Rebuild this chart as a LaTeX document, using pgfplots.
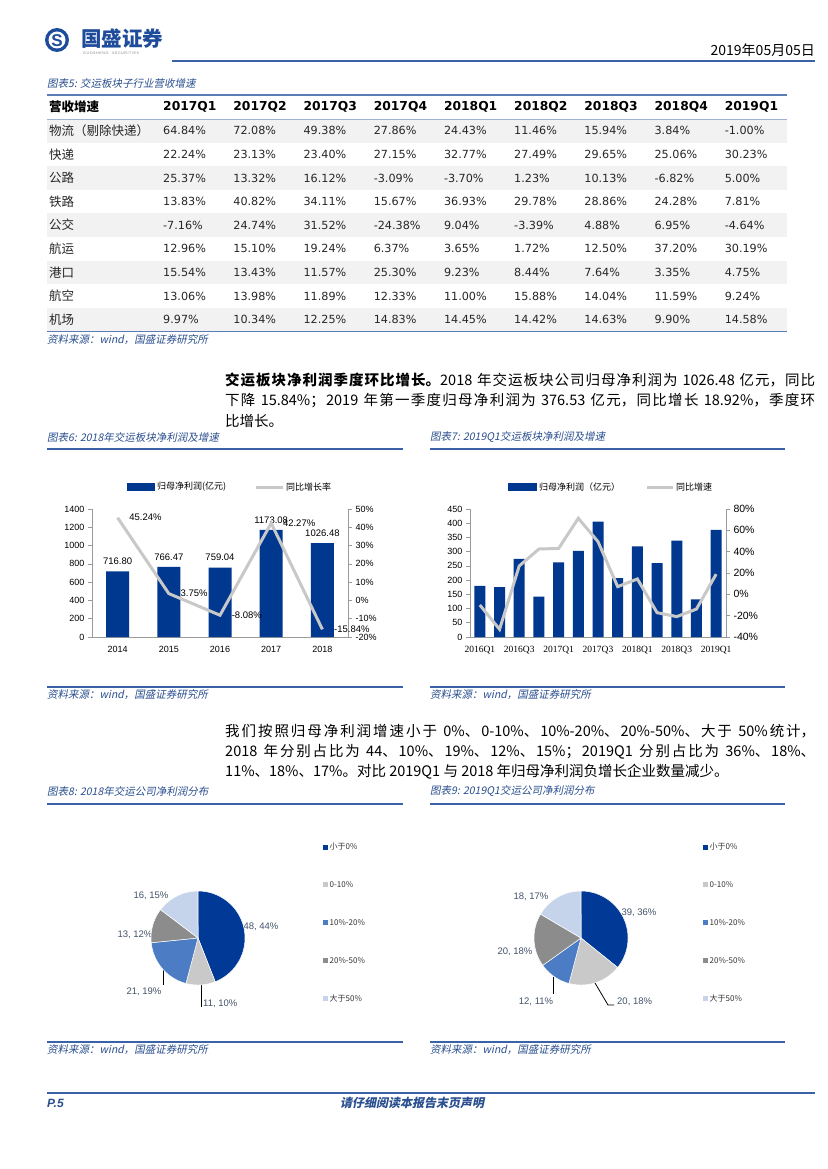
\documentclass[border=0pt]{standalone}
\usepackage{pgfplots}
\pgfplotsset{compat=1.18}
\usepackage{pgfplotstable}
\usepackage{fontspec}
\setmainfont{Noto Sans CJK SC}
\newfontfamily\cjkit{Noto Sans CJK SC}[FakeSlant=0.2]
\newfontfamily\dv{DejaVu Sans}
\newfontfamily\las{Liberation Sans}
\newfontfamily\lser{Liberation Serif}
\XeTeXlinebreaklocale "zh"
\XeTeXlinebreakskip=0pt plus 1pt
\newcommand\fs[1]{\fontsize{#1}{#1}\selectfont}

\definecolor{barblue}{HTML}{00378F}
\definecolor{linegray}{HTML}{C8C8C8}
\definecolor{capblue}{HTML}{2A4F8F}
\definecolor{ruleblue}{HTML}{3A62A8}
\definecolor{axgray}{HTML}{9A9A9A}
\definecolor{logoblue}{HTML}{1E4C9A}
\definecolor{pieA}{HTML}{003A96}
\definecolor{pieB}{HTML}{C9C9C9}
\definecolor{pieC}{HTML}{4C7CC4}
\definecolor{pieD}{HTML}{8C8C8C}
\definecolor{pieE}{HTML}{C5D4EA}
\definecolor{pielab}{HTML}{44546A}
\definecolor{rowgray}{HTML}{F2F2F2}
\definecolor{tabline}{HTML}{5A7DB5}

% ---------- data ----------
\pgfplotstableread{
x y
0 716.80
1 766.47
2 759.04
3 1173.08
4 1026.48
}\netA
\pgfplotstableread{
x y
0 45.24
1 3.75
2 -8.08
3 42.27
4 -15.84
}\grA
\pgfplotstableread{
x y
0 180
1 175
2 275
3 142
4 262
5 303
6 406
7 207
8 319
9 260
10 339
11 132
12 376.53
}\netB
\pgfplotstableread{
x y
0 -10.0
1 -32.8
2 26.6
3 42.5
4 43.0
5 71.3
6 49.4
7 7.2
8 14.4
9 -17.2
10 -20.9
11 -13.8
12 18.92
}\grB

% pie 2018: 48, 11, 21, 13, 16 ; pie 2019Q1: 39, 20, 12, 20, 18
\pgfmathsetmacro\Pa{90-48/109*360}
\pgfmathsetmacro\Pb{\Pa-11/109*360}
\pgfmathsetmacro\Pc{\Pb-21/109*360}
\pgfmathsetmacro\Pd{\Pc-13/109*360}
\pgfmathsetmacro\Pe{\Pd-16/109*360}
\pgfmathsetmacro\Qa{90-39/109*360}
\pgfmathsetmacro\Qb{\Qa-20/109*360}
\pgfmathsetmacro\Qc{\Qb-12/109*360}
\pgfmathsetmacro\Qd{\Qc-20/109*360}
\pgfmathsetmacro\Qe{\Qd-18/109*360}

\pgfplotsset{
  basechart/.style={
    scale only axis, width=256pt, height=128pt, clip=false,
    axis line style={axgray, line width=0.7pt},
    tick align=outside, major tick length=4pt,
    ticklabel style={font=\las\fs{9}, text=black},
    xticklabel style={yshift=-2pt},
    /pgf/number format/assume math mode=true,
    /pgf/number format/1000 sep={},
  },
}

\begin{document}
\begin{tikzpicture}
\path[fill=white] (0pt,0pt) rectangle (827pt,-1169pt);
\begin{scope}[x=1pt,y=-1pt]
% ---------- header ----------
\fill[logoblue] (57,40) circle (12);
\fill[white] (57,40) circle (8.5);
\node[logoblue, font=\las\bfseries\fs{17}] at (57,40.5) {S};
\node[anchor=west, logoblue, font=\bfseries\fs{20.5}, inner sep=0] at (81,39) {国盛证券};
\node[anchor=west, gray, font=\las\fs{3.6}, inner sep=0] at (83,53) {G\,U\,O\,S\,H\,E\,N\,G\quad S\,E\,C\,U\,R\,I\,T\,I\,E\,S};
\node[anchor=base east, font=\fs{14}, inner sep=0] at (815,56) {2019年05月05日};
\draw[ruleblue, line width=2pt] (172,61) -- (815,61);

% ---------- table ----------
\node[anchor=west, capblue, font=\cjkit\fs{10.5}, inner sep=0] at (47,83) {图表5: 交运板块子行业营收增速};
\foreach \i in {1,3,5,7,9}{
  \pgfmathsetmacro\yt{119+(\i-1)*23.6}
  \fill[rowgray] (47,\yt) rectangle (787,\yt+23.6);
}
\draw[tabline, line width=1.6pt] (47,95) -- (787,95);
\draw[tabline!60, line width=0.8pt] (47,119) -- (787,119);
\draw[tabline, line width=1.6pt] (47,331.5) -- (787,331.5);
\node[anchor=west, font=\bfseries\fs{12.5}, inner sep=0] at (49,107) {营收增速};
\foreach \h [count=\j from 0] in {2017Q1,2017Q2,2017Q3,2017Q4,2018Q1,2018Q2,2018Q3,2018Q4,2019Q1}{
  \pgfmathsetmacro\xc{163+70.2*\j}
  \node[anchor=west, font=\dv\bfseries\fs{12.3}, inner sep=0] at (\xc,107) {\h};
}
\foreach \i/\lab/\vals in {
 1/物流（剔除快递）/{64.84,72.08,49.38,27.86,24.43,11.46,15.94,3.84,-1.00},
 2/快递/{22.24,23.13,23.40,27.15,32.77,27.49,29.65,25.06,30.23},
 3/公路/{25.37,13.32,16.12,-3.09,-3.70,1.23,10.13,-6.82,5.00},
 4/铁路/{13.83,40.82,34.11,15.67,36.93,29.78,28.86,24.28,7.81},
 5/公交/{-7.16,24.74,31.52,-24.38,9.04,-3.39,4.88,6.95,-4.64},
 6/航运/{12.96,15.10,19.24,6.37,3.65,1.72,12.50,37.20,30.19},
 7/港口/{15.54,13.43,11.57,25.30,9.23,8.44,7.64,3.35,4.75},
 8/航空/{13.06,13.98,11.89,12.33,11.00,15.88,14.04,11.59,9.24},
 9/机场/{9.97,10.34,12.25,14.83,14.45,14.42,14.63,9.90,14.58}}{
  \pgfmathsetmacro\yc{119+(\i-0.5)*23.6}
  \node[anchor=west, font=\fs{12.5}, text=black!85, inner sep=0] at (49,\yc) {\lab};
  \foreach \v [count=\j from 0] in \vals {
    \pgfmathsetmacro\xc{163+70.2*\j}
    \node[anchor=west, font=\dv\fs{11.2}, text=black!85, inner sep=0] at (\xc,\yc) {\v\%};
  }
}
\node[anchor=west, capblue, font=\cjkit\fs{10.5}, inner sep=0] at (47,340) {资料来源：wind，国盛证券研究所};

% ---------- paragraph 1 ----------
\node[anchor=base west, inner sep=0] at (225,385) {\parbox[t]{590pt}{\fontsize{14.5}{20.5}\selectfont
{\bfseries 交运板块净利润季度环比增长。}2018 年交运板块公司归母净利润为 1026.48 亿元，同比\linebreak
下降 15.84\%；2019 年第一季度归母净利润为 376.53 亿元，同比增长 18.92\%，季度环\linebreak
比增长。}};

% ---------- captions charts 6/7 ----------
\node[anchor=west, capblue, font=\cjkit\fs{10.5}, inner sep=0] at (47,437) {图表6: 2018年交运板块净利润及增速};
\node[anchor=west, capblue, font=\cjkit\fs{10.5}, inner sep=0] at (430,437) {图表7: 2019Q1交运板块净利润及增速};
\draw[ruleblue, line width=1.3pt] (47,449) -- (403,449);
\draw[ruleblue, line width=1.3pt] (430,449) -- (785,449);
\draw[ruleblue, line width=1.3pt] (47,687) -- (403,687);
\draw[ruleblue, line width=1.3pt] (430,687) -- (785,687);
\node[anchor=west, capblue, font=\cjkit\fs{10.5}, inner sep=0] at (47,695) {资料来源：wind，国盛证券研究所};
\node[anchor=west, capblue, font=\cjkit\fs{10.5}, inner sep=0] at (430,695) {资料来源：wind，国盛证券研究所};
% legends
\fill[barblue] (127,483) rectangle (155,491);
\node[anchor=west, font=\fs{9}, inner sep=0] at (157,487) {归母净利润(亿元)};
\draw[linegray, line width=3pt] (256,487) -- (283,487);
\node[anchor=west, font=\fs{9}, inner sep=0] at (286,487) {同比增长率};
\fill[barblue] (508,483) rectangle (537,491);
\node[anchor=west, font=\fs{9}, inner sep=0] at (539,487) {归母净利润（亿元）};
\draw[linegray, line width=3pt] (647,487) -- (673,487);
\node[anchor=west, font=\fs{9}, inner sep=0] at (676,487) {同比增速};

% ---------- paragraph 2 ----------
\node[anchor=base west, inner sep=0] at (225,736) {\parbox[t]{590pt}{\fontsize{14.5}{20}\selectfont
我们按照归母净利润增速小于 0\%、0-10\%、10\%-20\%、20\%-50\%、大于 50\%统计，\linebreak
2018 年分别占比为 44、10\%、19\%、12\%、15\%；2019Q1 分别占比为 36\%、18\%、\linebreak
11\%、18\%、17\%。对比 2019Q1 与 2018 年归母净利润负增长企业数量减少。}};

% ---------- captions charts 8/9 ----------
\node[anchor=west, capblue, font=\cjkit\fs{10.5}, inner sep=0] at (47,791) {图表8: 2018年交运公司净利润分布};
\node[anchor=west, capblue, font=\cjkit\fs{10.5}, inner sep=0] at (430,791) {图表9: 2019Q1交运公司净利润分布};
\draw[ruleblue, line width=1.3pt] (47,804) -- (403,804);
\draw[ruleblue, line width=1.3pt] (430,804) -- (785,804);
\draw[ruleblue, line width=1.3pt] (47,1042) -- (403,1042);
\draw[ruleblue, line width=1.3pt] (430,1042) -- (785,1042);
\node[anchor=west, capblue, font=\cjkit\fs{10.5}, inner sep=0] at (47,1050) {资料来源：wind，国盛证券研究所};
\node[anchor=west, capblue, font=\cjkit\fs{10.5}, inner sep=0] at (430,1050) {资料来源：wind，国盛证券研究所};
% pie legends
\foreach \xx in {323,703}{
  \foreach \c/\t [count=\k from 0] in {pieA/小于0\%,pieB/0-10\%,pieC/10\%-20\%,pieD/20\%-50\%,pieE/大于50\%}{
    \pgfmathsetmacro\yy{847+37.8*\k}
    \fill[\c] (\xx,\yy-2.5) rectangle (\xx+5,\yy+2.5);
    \node[anchor=west, font=\fs{8}, text=black!80, inner sep=0] at (\xx+6.5,\yy) {\t};
  }
}
% pie labels left
\node[pielab, font=\las\fs{9.5}] at (261,927) {48, 44\%};
\node[pielab, font=\las\fs{9.5}, anchor=west, inner sep=0] at (203,1004) {11, 10\%};
\draw[black, line width=0.8pt] (201,985) -- (201,1007);
\node[pielab, font=\las\fs{9.5}] at (144,992) {21, 19\%};
\draw[black, line width=0.8pt] (163,969) -- (163,985);
\node[pielab, font=\las\fs{9.5}] at (135,935) {13, 12\%};
\node[pielab, font=\las\fs{9.5}] at (151,896) {16, 15\%};
% pie labels right
\node[pielab, font=\las\fs{9.5}] at (639,913) {39, 36\%};
\node[pielab, font=\las\fs{9.5}, anchor=west, inner sep=0] at (617,1002) {20, 18\%};
\draw[black, line width=0.8pt] (595,983) -- (608,1005) -- (614,1005);
\node[pielab, font=\las\fs{9.5}] at (536,1002) {12, 11\%};
\draw[black, line width=0.8pt] (553,977) -- (553,994);
\node[pielab, font=\las\fs{9.5}] at (515,952) {20, 18\%};
\node[pielab, font=\las\fs{9.5}] at (531,897) {18, 17\%};

% ---------- footer ----------
\draw[ruleblue, line width=2pt] (47,1093) -- (815,1093);
\node[anchor=west, capblue, font=\las\bfseries\itshape\fs{12}, inner sep=0] at (47,1103) {P.5};
\node[capblue, font=\cjkit\bfseries\fs{12}, inner sep=0] at (412,1103) {请仔细阅读本报告末页声明};
\end{scope}

% ---------- chart 6 ----------
\begin{axis}[basechart, at={(92pt,-637pt)}, anchor=south west,
  xmin=-0.5, xmax=4.5, ymin=0, ymax=1400,
  axis x line*=bottom, axis y line*=left,
  xtick={0,...,4}, xticklabels={2014,2015,2016,2017,2018},
  x tick style={draw=none}, y tick style={axgray, line width=0.6pt},
  ytick={0,200,...,1400},
  ybar, bar width=23pt,
  nodes near coords={\pgfmathprintnumber[fixed,fixed zerofill,precision=2]{\pgfplotspointmeta}},
  point meta=y,
  every node near coord/.append style={font=\las\fs{9.5}, text=black, yshift=3pt},
]
\addplot[fill=barblue, draw=none] table[x=x,y=y] {\netA};
\end{axis}
\begin{axis}[basechart, at={(92pt,-637pt)}, anchor=south west,
  xmin=-0.5, xmax=4.5, ymin=-20, ymax=50,
  axis y line*=right, axis x line=none,
  y tick style={axgray, line width=0.6pt},
  ytick={-20,-10,...,50}, yticklabel={\pgfmathprintnumber{\tick}\%},
  nodes near coords={\pgfmathprintnumber[fixed,fixed zerofill,precision=2]{\pgfplotspointmeta}\%},
  point meta=y,
  every node near coord/.append style={font=\las\fs{9.5}, text=black, anchor=west, xshift=7pt},
]
\addplot[linegray, line width=3pt, mark=none] table[x=x,y=y] {\grA};
\end{axis}

% ---------- chart 7 ----------
\begin{axis}[basechart, at={(470pt,-637pt)}, anchor=south west,
  xmin=-0.5, xmax=12.5, ymin=0, ymax=450,
  axis x line*=bottom, axis y line*=left,
  xtick={0,2,...,12}, xticklabels={2016Q1,2016Q3,2017Q1,2017Q3,2018Q1,2018Q3,2019Q1},
  xticklabel style={font=\lser\fs{9.5}},
  x tick style={draw=none}, y tick style={axgray, line width=0.6pt},
  ytick={0,50,...,450},
  ybar, bar width=11pt,
]
\addplot[fill=barblue, draw=none] table[x=x,y=y] {\netB};
\end{axis}
\begin{axis}[basechart, at={(470pt,-637pt)}, anchor=south west,
  xmin=-0.5, xmax=12.5, ymin=-40, ymax=80,
  axis y line*=right, axis x line=none,
  y tick style={axgray, line width=0.6pt},
  ytick={-40,-20,...,80}, yticklabel={\pgfmathprintnumber{\tick}\%},
  yticklabel style={font=\las\fs{10.5}},
]
\addplot[linegray, line width=3pt, mark=none] table[x=x,y=y] {\grB};
\end{axis}

% ---------- chart 8 (pie 2018) ----------
\begin{axis}[at={(198pt,-938pt)}, anchor=center, scale only axis, width=94pt, height=94pt,
  xmin=-1, xmax=1, ymin=-1, ymax=1, hide axis, clip=false]
\addplot[fill=pieA, draw=white, line width=0.5pt, domain=\Pa:90, samples=60] ({cos(x)},{sin(x)}) -- (axis cs:0,0) -- cycle;
\addplot[fill=pieB, draw=white, line width=0.5pt, domain=\Pb:\Pa, samples=30] ({cos(x)},{sin(x)}) -- (axis cs:0,0) -- cycle;
\addplot[fill=pieC, draw=white, line width=0.5pt, domain=\Pc:\Pb, samples=30] ({cos(x)},{sin(x)}) -- (axis cs:0,0) -- cycle;
\addplot[fill=pieD, draw=white, line width=0.5pt, domain=\Pd:\Pc, samples=30] ({cos(x)},{sin(x)}) -- (axis cs:0,0) -- cycle;
\addplot[fill=pieE, draw=white, line width=0.5pt, domain=\Pe:\Pd, samples=30] ({cos(x)},{sin(x)}) -- (axis cs:0,0) -- cycle;
\end{axis}

% ---------- chart 9 (pie 2019Q1) ----------
\begin{axis}[at={(581pt,-938pt)}, anchor=center, scale only axis, width=94pt, height=94pt,
  xmin=-1, xmax=1, ymin=-1, ymax=1, hide axis, clip=false]
\addplot[fill=pieA, draw=white, line width=0.5pt, domain=\Qa:90, samples=60] ({cos(x)},{sin(x)}) -- (axis cs:0,0) -- cycle;
\addplot[fill=pieB, draw=white, line width=0.5pt, domain=\Qb:\Qa, samples=30] ({cos(x)},{sin(x)}) -- (axis cs:0,0) -- cycle;
\addplot[fill=pieC, draw=white, line width=0.5pt, domain=\Qc:\Qb, samples=30] ({cos(x)},{sin(x)}) -- (axis cs:0,0) -- cycle;
\addplot[fill=pieD, draw=white, line width=0.5pt, domain=\Qd:\Qc, samples=30] ({cos(x)},{sin(x)}) -- (axis cs:0,0) -- cycle;
\addplot[fill=pieE, draw=white, line width=0.5pt, domain=\Qe:\Qd, samples=30] ({cos(x)},{sin(x)}) -- (axis cs:0,0) -- cycle;
\end{axis}
\end{tikzpicture}
\end{document}
